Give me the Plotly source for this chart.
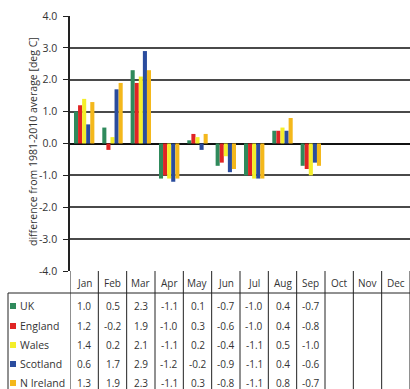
import plotly.graph_objects as go

months = ["Jan", "Feb", "Mar", "Apr", "May", "Jun", "Jul", "Aug", "Sep", "Oct", "Nov", "Dec"]
series_names = ["UK", "England", "Wales", "Scotland", "N Ireland"]
uk = [1.0, 0.5, 2.3, -1.1, 0.1, -0.7, -1.0, 0.4, -0.7, None, None, None]
england = [1.2, -0.2, 1.9, -1.0, 0.3, -0.6, -1.0, 0.4, -0.8, None, None, None]
wales = [1.4, 0.2, 2.1, -1.1, 0.2, -0.4, -1.1, 0.5, -1.0, None, None, None]
scotland = [0.6, 1.7, 2.9, -1.2, -0.2, -0.9, -1.1, 0.4, -0.6, None, None, None]
nireland = [1.3, 1.9, 2.3, -1.1, 0.3, -0.8, -1.1, 0.8, -0.7, None, None, None]
series_values = [uk, england, wales, scotland, nireland]
colors = ["#2f8a5c", "#e02424", "#f4ee2a", "#2a4c9e", "#f4b81c"]
y_ticks = [-4, -3, -2, -1, 0, 1, 2, 3, 4]
y_title = "difference from 1981-2010 average [deg C]"

W, H = 410, 389
L, R, T, B = 70, 410, 16, 271
pw, ph = R - L, B - T

def px(x):
    return (x - L) / pw

def py(y):
    return (B - y) / ph

FONT = "Open Sans, Noto Sans, sans-serif"
TXT = "#333333"

fig = go.Figure()
for name, vals, c in zip(series_names, series_values, colors):
    fig.add_trace(go.Bar(x=months, y=vals, name=name, marker=dict(color=c, line=dict(width=0))))

shapes = []
annotations = []
for i in range(len(months) + 1):
    shapes.append(dict(type="line", xref="x", yref="paper", x0=i - 0.5, x1=i - 0.5,
                       y0=0, y1=py(395), line=dict(color="#222222", width=1)))
shapes.append(dict(type="line", xref="paper", yref="paper", x0=px(8), x1=px(412),
                   y0=py(293), y1=py(293), line=dict(color="#222222", width=1)))
shapes.append(dict(type="line", xref="paper", yref="paper", x0=px(8), x1=px(8),
                   y0=py(293), y1=py(395), line=dict(color="#222222", width=1)))

for m in months:
    annotations.append(dict(x=m, xref="x", y=py(283), yref="paper", text=m, showarrow=False,
                            font=dict(size=10, color=TXT, family=FONT), xanchor="center", yanchor="middle"))

row_y = [306, 326, 345, 364, 383]
for name, vals, c, ry in zip(series_names, series_values, colors, row_y):
    shapes.append(dict(type="rect", xref="paper", yref="paper", x0=px(10), x1=px(16),
                       y0=py(ry + 3), y1=py(ry - 3), fillcolor=c, line=dict(width=0)))
    annotations.append(dict(x=px(18), xref="paper", y=py(ry), yref="paper", text=name, showarrow=False,
                            font=dict(size=10.5, color=TXT, family=FONT), xanchor="left", yanchor="middle"))
    for m, v in zip(months, vals):
        if v is None:
            continue
        annotations.append(dict(x=m, xref="x", y=py(ry), yref="paper", text=f"{v:.1f}", showarrow=False,
                                font=dict(size=10, color=TXT, family=FONT), xanchor="center", yanchor="middle"))

annotations.append(dict(x=px(33), xref="paper", y=py(142), yref="paper", text=y_title, textangle=-90,
                        showarrow=False, font=dict(size=10.5, color=TXT, family=FONT),
                        xanchor="center", yanchor="middle"))

fig.update_layout(
    width=W, height=H,
    margin=dict(l=L, r=W - R, t=T, b=H - B, pad=0),
    paper_bgcolor="white", plot_bgcolor="white",
    barmode="group", bargap=0.28, bargroupgap=0,
    showlegend=False,
    font=dict(family=FONT, color=TXT, size=10),
    xaxis=dict(type="category", range=[-0.5, 11.5], showticklabels=False, showgrid=False,
               zeroline=False, showline=False, ticks=""),
    yaxis=dict(range=[-4, 4], tickvals=y_ticks, ticktext=[f"{v:.1f}" for v in y_ticks],
               showgrid=True, gridcolor="#4a4a4a", gridwidth=1.6,
               zeroline=True, zerolinecolor="#111111", zerolinewidth=2,
               showline=True, linecolor="#222222", linewidth=1.5,
               ticks="outside", ticklen=5, tickcolor="#222222", ticklabelstandoff=4,
               tickfont=dict(size=10.5, color=TXT, family=FONT)),
    shapes=shapes, annotations=annotations,
)

fig.write_html("out.html", config={"displayModeBar": False},
               post_script="document.body.style.margin='0';document.body.style.overflow='hidden';")
